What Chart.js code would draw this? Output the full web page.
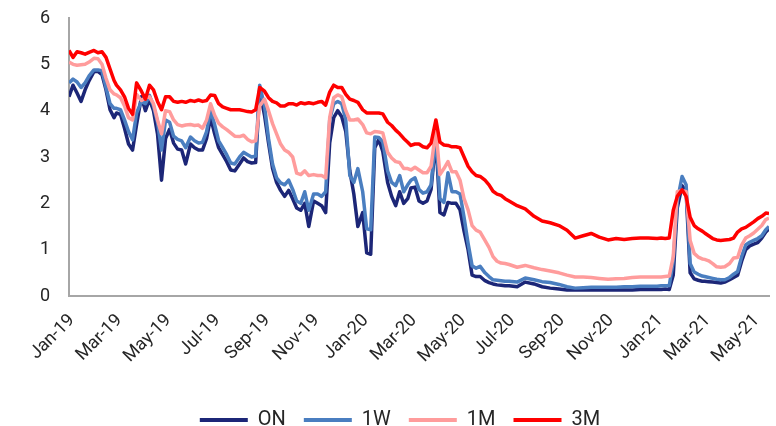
<!DOCTYPE html>
<html>
<head>
<meta charset="utf-8">
<script src="https://cdn.jsdelivr.net/npm/chart.js@4/dist/chart.umd.min.js"></script>
<style>
  html, body { margin: 0; padding: 0; background: #ffffff; }
  #wrap { width: 776px; height: 426px; }
</style>
</head>
<body>
<div id="wrap"><canvas id="rates" width="776" height="426"></canvas></div>
<script>
// Observation dates (sampled), Jan 2019 - May 2021
const dates = [
  '2019-01-01','2019-01-06','2019-01-11','2019-01-16','2019-01-21','2019-01-26',
  '2019-02-01','2019-02-06','2019-02-11','2019-02-16','2019-02-21','2019-02-26',
  '2019-03-01','2019-03-06','2019-03-11','2019-03-16','2019-03-21','2019-03-26',
  '2019-04-01','2019-04-06','2019-04-11','2019-04-16','2019-04-21','2019-04-26',
  '2019-05-01','2019-05-06','2019-05-11','2019-05-16','2019-05-21','2019-05-26',
  '2019-06-01','2019-06-06','2019-06-11','2019-06-16','2019-06-21','2019-06-26',
  '2019-07-01','2019-07-06','2019-07-11','2019-07-16','2019-07-21','2019-07-26',
  '2019-08-01','2019-08-06','2019-08-11','2019-08-16','2019-08-21','2019-08-26',
  '2019-09-01','2019-09-06','2019-09-11','2019-09-16','2019-09-21','2019-09-26',
  '2019-10-01','2019-10-06','2019-10-11','2019-10-16','2019-10-21','2019-10-26',
  '2019-11-01','2019-11-06','2019-11-11','2019-11-16','2019-11-21','2019-11-26',
  '2019-12-01','2019-12-06','2019-12-11','2019-12-16','2019-12-21','2019-12-26',
  '2020-01-01','2020-01-06','2020-01-11','2020-01-16','2020-01-21','2020-01-26',
  '2020-02-01','2020-02-06','2020-02-11','2020-02-16','2020-02-21','2020-02-26',
  '2020-03-01','2020-03-06','2020-03-11','2020-03-16','2020-03-21','2020-03-26',
  '2020-04-01','2020-04-06','2020-04-11','2020-04-16','2020-04-21','2020-04-26',
  '2020-05-01','2020-05-06','2020-05-11','2020-05-16','2020-05-21','2020-05-26',
  '2020-06-01','2020-06-06','2020-06-11','2020-06-16','2020-06-21','2020-06-26',
  '2020-07-01','2020-07-11','2020-07-21',
  '2020-08-01','2020-08-11','2020-08-21',
  '2020-09-01','2020-09-11','2020-09-21',
  '2020-10-01','2020-10-11','2020-10-21',
  '2020-11-01','2020-11-11','2020-11-21',
  '2020-12-01','2020-12-11','2020-12-21',
  '2021-01-01','2021-01-06','2021-01-11','2021-01-16','2021-01-21','2021-01-26',
  '2021-02-01','2021-02-06','2021-02-11','2021-02-16','2021-02-21','2021-02-26',
  '2021-03-01','2021-03-06','2021-03-11','2021-03-16','2021-03-21','2021-03-26',
  '2021-04-01','2021-04-06','2021-04-11','2021-04-16','2021-04-21','2021-04-26',
  '2021-05-01','2021-05-06','2021-05-11','2021-05-16','2021-05-20'
];

// Interbank rates, % p.a.
const onRates = [
  4.3, 4.55, 4.38, 4.2, 4.45, 4.65,
  4.84, 4.85, 4.78, 4.45, 4.02, 3.85,
  3.95, 3.92, 3.62, 3.28, 3.15, 3.7,
  4.3, 4.0, 4.25, 4.0, 3.5, 2.5,
  3.4, 3.6, 3.3, 3.17, 3.15, 2.85,
  3.28, 3.2, 3.15, 3.15, 3.4, 3.85,
  3.5, 3.2, 3.05, 2.9, 2.72, 2.7,
  2.85, 2.98, 2.9, 2.87, 2.88, 4.45,
  3.9, 3.3, 2.75, 2.45, 2.28, 2.15,
  2.28, 2.1, 1.9, 1.85, 2.0, 1.5,
  2.05, 2.0, 1.95, 1.8, 3.3, 3.85,
  4.0, 3.87, 3.55, 2.7, 2.2, 1.5,
  1.8, 0.93, 0.9, 3.2, 3.38, 3.12,
  2.45, 2.15, 1.95, 2.25, 2.0, 2.1,
  2.33, 2.35, 2.05, 2.0, 2.05, 2.3,
  3.4, 1.8, 1.75, 2.02, 2.0, 2.0,
  1.86, 1.4, 1.0, 0.45, 0.42, 0.42,
  0.33, 0.29, 0.26, 0.24, 0.23, 0.22,
  0.22, 0.2, 0.3,
  0.26, 0.2, 0.17,
  0.15, 0.13, 0.13,
  0.13, 0.13, 0.13,
  0.13, 0.13, 0.13,
  0.13, 0.14, 0.14,
  0.14, 0.14, 0.15, 0.14, 0.45, 1.9,
  2.38, 2.25, 0.5, 0.37, 0.34, 0.32,
  0.32, 0.31, 0.3, 0.29, 0.28, 0.3,
  0.35, 0.4, 0.45, 0.75, 1.0, 1.08,
  1.12, 1.15, 1.25, 1.38, 1.45
];

const w1Rates = [
  4.6, 4.68, 4.62, 4.5, 4.6, 4.75,
  4.88, 4.88, 4.86, 4.5, 4.15, 4.05,
  4.05, 4.02, 3.8, 3.55, 3.37, 3.95,
  4.2, 4.15, 4.33, 4.1, 3.75, 3.15,
  3.8, 3.75, 3.45, 3.38, 3.35, 3.2,
  3.43, 3.35, 3.3, 3.32, 3.55, 4.0,
  3.7, 3.35, 3.2, 3.05, 2.87, 2.85,
  3.0, 3.1, 3.05, 3.0, 3.02, 4.55,
  4.1, 3.4, 2.85, 2.55, 2.44, 2.4,
  2.5, 2.3, 2.05, 2.0, 2.25, 1.85,
  2.2, 2.2, 2.15, 2.25, 3.8, 4.15,
  4.2, 4.15, 3.8, 2.6, 2.45, 2.75,
  2.25, 1.45, 1.43, 3.43, 3.42, 3.33,
  2.7, 2.45, 2.38, 2.6, 2.25, 2.4,
  2.5, 2.55, 2.3, 2.22, 2.25, 2.4,
  3.5, 2.1, 2.02, 2.66, 2.25, 2.25,
  2.2, 1.7, 1.14, 0.65, 0.6, 0.64,
  0.5, 0.42, 0.35, 0.34, 0.33, 0.32,
  0.32, 0.3, 0.39,
  0.35, 0.31, 0.29,
  0.25, 0.2, 0.17,
  0.18, 0.19, 0.19,
  0.19, 0.19, 0.2,
  0.2, 0.21, 0.21,
  0.21, 0.22, 0.22, 0.22, 0.75, 2.05,
  2.58, 2.4, 0.7, 0.52, 0.47, 0.43,
  0.42, 0.4, 0.38, 0.36, 0.35, 0.35,
  0.4, 0.47, 0.53, 0.85, 1.1, 1.16,
  1.2, 1.24, 1.3, 1.43, 1.5
];

const m1Rates = [
  5.05, 5.0, 4.98, 4.99, 5.0, 5.05,
  5.13, 5.12, 5.0, 4.7, 4.45, 4.36,
  4.34, 4.28, 4.1, 3.85, 3.8, 4.35,
  4.22, 4.28, 4.3, 4.15, 3.8, 3.5,
  4.0, 3.98, 3.8, 3.7, 3.67, 3.69,
  3.7, 3.68, 3.69, 3.62, 3.8, 4.15,
  3.9, 3.73, 3.65, 3.59, 3.52, 3.45,
  3.44, 3.47, 3.38, 3.33, 3.35, 4.1,
  4.25, 4.0, 3.72, 3.5, 3.28, 3.15,
  3.1, 3.0, 2.65, 2.62, 2.7, 2.6,
  2.62, 2.6, 2.6, 2.55, 3.85, 4.28,
  4.34, 4.3, 4.0, 3.8, 3.8, 3.82,
  3.7, 3.52, 3.5, 3.55, 3.54, 3.52,
  3.1, 2.98, 2.9, 2.88, 2.75, 2.75,
  2.72, 2.78, 2.72, 2.66, 2.66, 2.8,
  3.59, 2.62, 2.75, 2.9, 2.68, 2.68,
  2.5, 2.1, 1.86, 1.52, 1.42, 1.38,
  1.2, 1.05, 0.85, 0.75, 0.71, 0.7,
  0.68, 0.62, 0.66,
  0.61, 0.57, 0.54,
  0.5, 0.45, 0.41,
  0.41, 0.4, 0.38,
  0.36, 0.37, 0.38,
  0.4, 0.41, 0.41,
  0.41, 0.41, 0.42, 0.43, 0.85, 2.25,
  2.28, 2.25, 1.2, 0.92, 0.84, 0.8,
  0.79, 0.76, 0.7, 0.63, 0.62, 0.63,
  0.7, 0.82, 0.83, 1.1, 1.25, 1.3,
  1.36, 1.44, 1.52, 1.65, 1.68
];

const m3Rates = [
  5.3, 5.15, 5.27, 5.25, 5.22, 5.26,
  5.3, 5.25, 5.27, 5.15, 4.9, 4.65,
  4.55, 4.45, 4.3, 4.05, 3.92, 4.6,
  4.42, 4.25, 4.55, 4.45, 4.2, 4.02,
  4.3, 4.3, 4.2, 4.18, 4.2, 4.18,
  4.22, 4.2, 4.23, 4.2, 4.22, 4.34,
  4.33, 4.15, 4.08, 4.05, 4.02, 4.02,
  4.02, 4.0, 3.98, 3.97, 4.02, 4.5,
  4.42, 4.28, 4.2, 4.17, 4.1, 4.1,
  4.15, 4.15, 4.12, 4.17, 4.15, 4.17,
  4.15, 4.18, 4.2, 4.12, 4.4, 4.55,
  4.5, 4.5, 4.35, 4.25, 4.22, 4.18,
  4.02, 3.95, 3.95, 3.95, 3.95, 3.93,
  3.75, 3.68, 3.58, 3.5, 3.4, 3.32,
  3.25, 3.28, 3.28, 3.22, 3.2, 3.3,
  3.8, 3.32, 3.26, 3.25, 3.22, 3.22,
  3.2, 3.0, 2.8, 2.68, 2.6, 2.58,
  2.5, 2.4, 2.26, 2.2, 2.17, 2.1,
  2.05, 1.95, 1.88,
  1.72, 1.62, 1.58,
  1.52, 1.42, 1.25,
  1.3, 1.35, 1.27,
  1.21, 1.24, 1.22,
  1.24, 1.25, 1.25,
  1.24, 1.25, 1.24, 1.25, 1.85, 2.15,
  2.29, 2.15, 1.7, 1.52, 1.45, 1.4,
  1.36, 1.3, 1.24, 1.21, 1.2, 1.21,
  1.22, 1.25, 1.38, 1.45, 1.48, 1.54,
  1.6, 1.67, 1.72, 1.79, 1.78
];

// Axis ticks every second month
const tickDates = [
  '2019-01-01','2019-03-01','2019-05-01','2019-07-01','2019-09-01','2019-11-01',
  '2020-01-01','2020-03-01','2020-05-01','2020-07-01','2020-09-01','2020-11-01',
  '2021-01-01','2021-03-01','2021-05-01'
];
const tickLabels = [
  'Jan-19','Mar-19','May-19','Jul-19','Sep-19','Nov-19',
  'Jan-20','Mar-20','May-20','Jul-20','Sep-20','Nov-20',
  'Jan-21','Mar-21','May-21'
];

const seriesNames = ['ON', '1W', '1M', '3M'];
const seriesColors = ['#1c2677', '#4a7ec0', '#ff9c9c', '#ff0000'];

// day count since 1 Jan 2019
const ORIGIN = Date.UTC(2019, 0, 1);
function dayIndex(iso) {
  const [y, m, d] = iso.split('-').map(Number);
  return (Date.UTC(y, m - 1, d) - ORIGIN) / 86400000;
}
const xDays = dates.map(dayIndex);
const tickDays = tickDates.map(dayIndex);
const tickText = {};
tickDays.forEach((d, i) => { tickText[d] = tickLabels[i]; });

const toPoints = arr => arr.map((v, i) => ({ x: xDays[i], y: v }));
const allSeries = [onRates, w1Rates, m1Rates, m3Rates];

const textColor = '#262626';
const axisColor = '#a6a6a6';
const fontFamily = 'Roboto, "Liberation Sans", Arial, sans-serif';

// keep the plot rectangle fixed: no extra room reserved for edge tick labels
function noEdgePadding(scale) {
  scale.paddingLeft = 0;
  scale.paddingRight = 0;
  scale.paddingTop = 0;
  scale.paddingBottom = 0;
}

new Chart(document.getElementById('rates'), {
  type: 'line',
  data: {
    datasets: allSeries.map((arr, i) => ({
      label: seriesNames[i],
      data: toPoints(arr),
      borderColor: seriesColors[i],
      backgroundColor: seriesColors[i],
      borderWidth: 3.5,
      pointRadius: 0,
      pointHoverRadius: 0,
      tension: 0,
      borderJoinStyle: 'round',
      order: 4 - i
    }))
  },
  options: {
    responsive: false,
    devicePixelRatio: 1,
    animation: false,
    layout: { padding: { left: 31, right: 7, top: 18, bottom: -14 } },
    plugins: {
      tooltip: { enabled: false },
      legend: {
        position: 'bottom',
        labels: {
          usePointStyle: true,
          pointStyle: 'line',
          pointStyleWidth: 48,
          padding: 18,
          color: textColor,
          font: { family: fontFamily, size: 20 },
          sort: (a, b) => a.datasetIndex - b.datasetIndex,
          generateLabels: chart =>
            Chart.defaults.plugins.legend.labels.generateLabels(chart)
              .map(item => Object.assign(item, { lineWidth: 4, pointStyle: 'line' }))
        }
      }
    },
    scales: {
      x: {
        type: 'linear',
        min: 0,
        max: dayIndex('2021-05-20'),
        grid: { display: false, drawTicks: false },
        border: { display: true, color: axisColor, width: 2 },
        afterBuildTicks: scale => { scale.ticks = tickDays.map(v => ({ value: v })); },
        afterFit: scale => { noEdgePadding(scale); scale.height = 96; },
        ticks: {
          autoSkip: false,
          minRotation: 45,
          maxRotation: 45,
          padding: 14,
          labelOffset: 3,
          color: textColor,
          font: { family: fontFamily, size: 18 },
          callback: value => tickText[value] || ''
        }
      },
      y: {
        min: 0,
        max: 6,
        grid: { display: false, drawTicks: false },
        border: { display: true, color: axisColor, width: 2 },
        afterFit: scale => { noEdgePadding(scale); scale.width = 38; },
        ticks: {
          stepSize: 1,
          padding: 19,
          color: textColor,
          font: { family: fontFamily, size: 18 }
        }
      }
    }
  }
});
</script>
</body>
</html>
